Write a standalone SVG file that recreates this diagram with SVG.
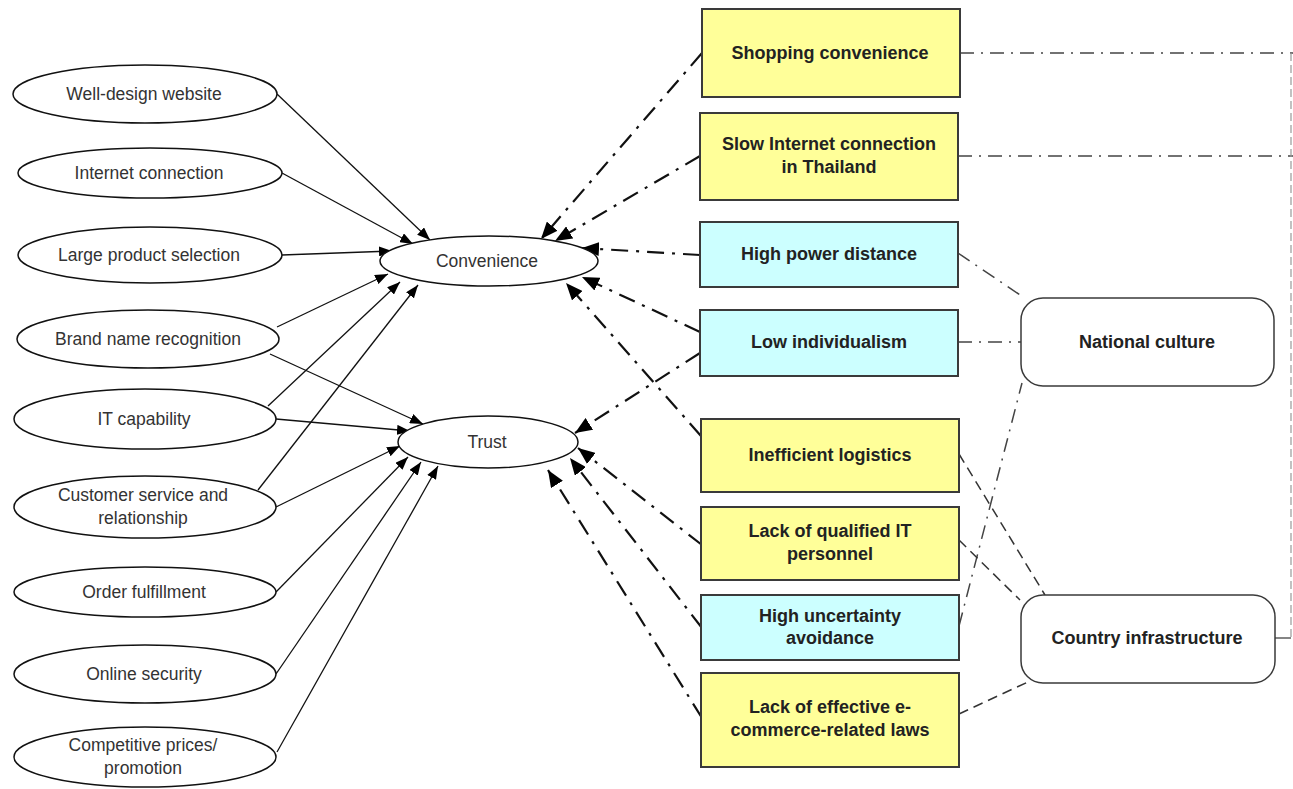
<svg xmlns="http://www.w3.org/2000/svg" width="1293" height="789" viewBox="0 0 1293 789">
<defs>
<style>
.ell{fill:#fff;stroke:#111;stroke-width:1.5}
.lt{font-family:"Liberation Sans",Arial,sans-serif;font-size:17.5px;fill:#333;text-anchor:middle}
.bt{font-family:"Liberation Sans",Arial,sans-serif;font-size:18px;font-weight:bold;fill:#222;text-anchor:middle}
.yel{fill:#ffff99;stroke:#3a3a3a;stroke-width:2}
.cya{fill:#ccffff;stroke:#3a3a3a;stroke-width:2}
.rnd{fill:#fff;stroke:#3a3a3a;stroke-width:1.5}
.sol{stroke:#111;stroke-width:1.3;fill:none;marker-end:url(#ah)}
.dd{stroke:#111;stroke-width:2.2;fill:none;stroke-dasharray:17 8 3 8;marker-end:url(#ahb)}
.gdd{stroke:#444;stroke-width:1.5;fill:none;stroke-dasharray:14 7 2 7}
.gd{stroke:#333;stroke-width:1.5;fill:none;stroke-dasharray:10 6}
.gv{stroke:#999;stroke-width:1.2;fill:none;stroke-dasharray:8 4}
.gs{stroke:#333;stroke-width:1.2;fill:none}
</style>
<marker id="ah" markerUnits="userSpaceOnUse" markerWidth="14" markerHeight="10" refX="13" refY="5" orient="auto">
<path d="M0,0 L13,5 L0,10 z" fill="#000"/>
</marker>
<marker id="ahb" markerUnits="userSpaceOnUse" markerWidth="18" markerHeight="14" refX="17" refY="7" orient="auto">
<path d="M0,0 L17,7 L0,14 z" fill="#000"/>
</marker>
</defs>
<rect width="1293" height="789" fill="#fff"/>
<g id="connectors">
<line class="sol" x1="277" y1="94" x2="430" y2="240"/>
<line class="sol" x1="282" y1="173" x2="413" y2="244"/>
<line class="sol" x1="282" y1="255" x2="392" y2="251"/>
<line class="sol" x1="277" y1="327" x2="388" y2="274"/>
<line class="sol" x1="268" y1="406" x2="400" y2="282"/>
<line class="sol" x1="258" y1="490" x2="418" y2="285"/>
<line class="sol" x1="270" y1="354" x2="423" y2="424"/>
<line class="sol" x1="276" y1="419" x2="410" y2="431"/>
<line class="sol" x1="276" y1="507" x2="400" y2="446"/>
<line class="sol" x1="276" y1="592" x2="408" y2="457"/>
<line class="sol" x1="276" y1="674" x2="421" y2="462"/>
<line class="sol" x1="277" y1="752" x2="438" y2="466"/>
<line class="dd" x1="702" y1="53" x2="541" y2="239"/>
<line class="dd" x1="700" y1="156" x2="555" y2="241"/>
<line class="dd" x1="700" y1="255" x2="582" y2="248"/>
<line class="dd" x1="700" y1="332" x2="582" y2="277"/>
<line class="dd" x1="701" y1="436" x2="566" y2="283"/>
<line class="dd" x1="700" y1="353" x2="575" y2="433"/>
<line class="dd" x1="702" y1="545" x2="578" y2="448"/>
<line class="dd" x1="702" y1="628" x2="570" y2="458"/>
<line class="dd" x1="702" y1="718" x2="548" y2="470"/>
<line class="gdd" x1="960" y1="53" x2="1293" y2="53"/>
<line class="gdd" x1="958" y1="156" x2="1293" y2="156"/>
<line class="gv" x1="1291" y1="53" x2="1291" y2="638"/>
<line class="gdd" x1="958" y1="253" x2="1023" y2="297"/>
<line class="gdd" x1="958" y1="342" x2="1021" y2="342"/>
<line class="gdd" x1="959" y1="626" x2="1022" y2="383"/>
<line class="gd" x1="959" y1="454" x2="1045" y2="595"/>
<line class="gd" x1="959" y1="540" x2="1020" y2="600"/>
<line class="gd" x1="959" y1="714" x2="1030" y2="681"/>
<line class="gs" x1="1275" y1="638" x2="1291" y2="638"/>
</g>
<g id="n-well"><ellipse class="ell" cx="145" cy="94" rx="132" ry="29"/><text class="lt" x="144" y="100">Well-design website</text></g>
<g id="n-internet"><ellipse class="ell" cx="150" cy="173" rx="132" ry="25"/><text class="lt" x="149" y="179">Internet connection</text></g>
<g id="n-large"><ellipse class="ell" cx="150" cy="255" rx="132" ry="28"/><text class="lt" x="149" y="261">Large product selection</text></g>
<g id="n-brand"><ellipse class="ell" cx="148" cy="339" rx="131" ry="29"/><text class="lt" x="148" y="345">Brand name recognition</text></g>
<g id="n-it"><ellipse class="ell" cx="145" cy="419" rx="131" ry="30"/><text class="lt" x="144" y="425">IT capability</text></g>
<g id="n-cust"><ellipse class="ell" cx="145" cy="507" rx="131" ry="31"/><text class="lt" x="143" y="501">Customer service and</text><text class="lt" x="143" y="524">relationship</text></g>
<g id="n-order"><ellipse class="ell" cx="145" cy="592" rx="131" ry="25"/><text class="lt" x="144" y="598">Order fulfillment</text></g>
<g id="n-sec"><ellipse class="ell" cx="145" cy="674" rx="131" ry="29"/><text class="lt" x="144" y="680">Online security</text></g>
<g id="n-price"><ellipse class="ell" cx="145" cy="757" rx="131" ry="30"/><text class="lt" x="143" y="751">Competitive prices/</text><text class="lt" x="143" y="774">promotion</text></g>
<g id="n-conv"><ellipse class="ell" cx="489" cy="261" rx="109" ry="25"/><text class="lt" x="487" y="267">Convenience</text></g>
<g id="n-trust"><ellipse class="ell" cx="488" cy="442" rx="90" ry="26"/><text class="lt" x="487" y="448">Trust</text></g>
<g id="n-shop"><rect class="yel" x="702" y="9" width="258" height="88"/><text class="bt" x="830" y="58.5">Shopping convenience</text></g>
<g id="n-slow"><rect class="yel" x="700" y="113" width="258" height="87"/><text class="bt" x="829" y="149.5">Slow Internet connection</text><text class="bt" x="829" y="172.5">in Thailand</text></g>
<g id="n-hpd"><rect class="cya" x="700" y="222" width="258" height="65"/><text class="bt" x="829" y="260">High power distance</text></g>
<g id="n-low"><rect class="cya" x="700" y="310" width="258" height="66"/><text class="bt" x="829" y="348">Low individualism</text></g>
<g id="n-ineff"><rect class="yel" x="701" y="419" width="258" height="73"/><text class="bt" x="830" y="461">Inefficient logistics</text></g>
<g id="n-lackit"><rect class="yel" x="701" y="507" width="258" height="73"/><text class="bt" x="830" y="537">Lack of qualified IT</text><text class="bt" x="830" y="560">personnel</text></g>
<g id="n-unc"><rect class="cya" x="701" y="595" width="258" height="65"/><text class="bt" x="830" y="622">High uncertainty</text><text class="bt" x="830" y="644">avoidance</text></g>
<g id="n-laws"><rect class="yel" x="701" y="673" width="258" height="94"/><text class="bt" x="830" y="713">Lack of effective e-</text><text class="bt" x="830" y="736">commerce-related laws</text></g>
<g id="n-natcul"><rect class="rnd" x="1021" y="298" width="253" height="88" rx="22" ry="22"/><text class="bt" x="1147" y="347.5">National culture</text></g>
<g id="n-infra"><rect class="rnd" x="1021" y="595" width="254" height="88" rx="22" ry="22"/><text class="bt" x="1147" y="643.5">Country infrastructure</text></g>
</svg>
